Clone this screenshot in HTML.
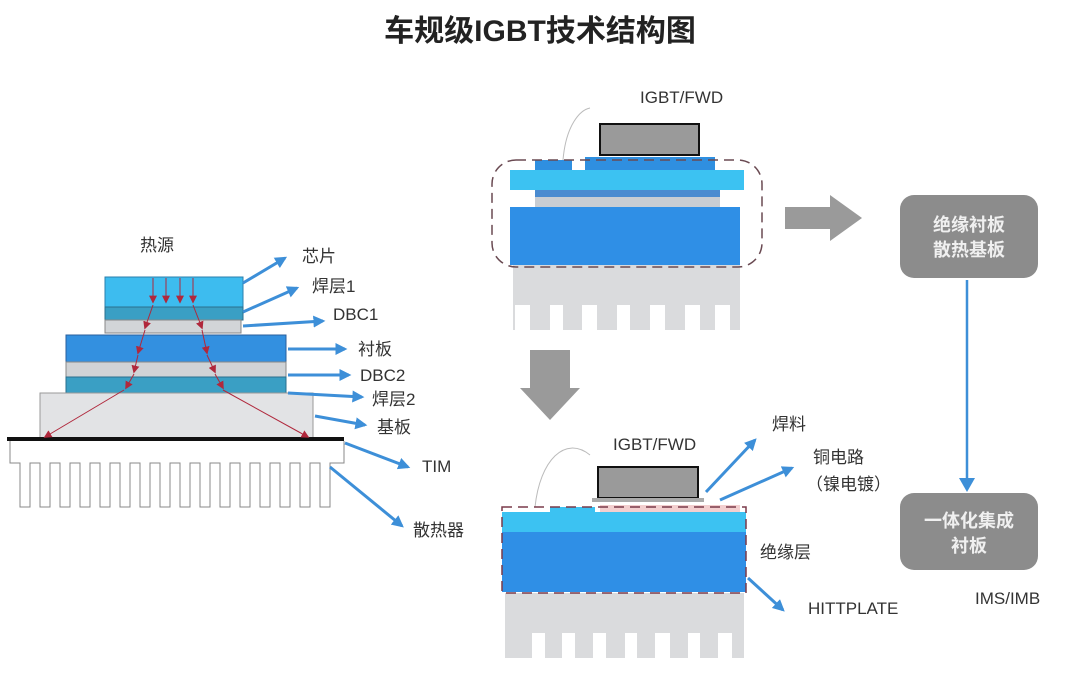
<!DOCTYPE html>
<html><head><meta charset="utf-8"><style>
body{margin:0;background:#fff;}
svg{display:block;font-family:"Liberation Sans","Noto Sans CJK SC",sans-serif;}
</style></head><body>
<svg width="1080" height="682" viewBox="0 0 1080 682" xmlns="http://www.w3.org/2000/svg">
<defs>
<marker id="ab" viewBox="0 0 10 10" refX="8" refY="5" markerWidth="4" markerHeight="4" orient="auto"><path d="M0,0L10,5L0,10z" fill="#3d8fd8"/></marker>
<marker id="ar" viewBox="0 0 10 10" refX="8" refY="5" markerUnits="userSpaceOnUse" markerWidth="8" markerHeight="8" orient="auto"><path d="M0,0L10,5L0,10z" fill="#b0283c"/></marker>
</defs>
<rect width="1080" height="682" fill="#fff"/>
<text x="540" y="41" text-anchor="middle" font-size="30" font-weight="bold" fill="#222">车规级IGBT技术结构图</text>

<!-- LEFT STACK -->
<rect x="105" y="277" width="138" height="30" fill="#3dbcef" stroke="#2a7fae" stroke-width="1"/>
<rect x="105" y="307" width="138" height="13" fill="#3a9fc4" stroke="#2a6f8e" stroke-width="1"/>
<rect x="105" y="320" width="136" height="13" fill="#d2d5d8" stroke="#888" stroke-width="1"/>
<rect x="66" y="335" width="220" height="27" fill="#3390e0" stroke="#2a5f9e" stroke-width="1"/>
<rect x="66" y="362" width="220" height="15" fill="#d0d3d6" stroke="#888" stroke-width="1"/>
<rect x="66" y="377" width="220" height="16" fill="#3a9fc4" stroke="#2a6f8e" stroke-width="1"/>
<rect x="40" y="393" width="273" height="45" fill="#e2e3e5" stroke="#999" stroke-width="1"/>
<rect x="7" y="437" width="337" height="4" fill="#111"/>
<path d="M10,441 V463 H20 V507 H30 V463 H40 V507 H50 V463 H60 V507 H70 V463 H80 V507 H90 V463 H100 V507 H110 V463 H120 V507 H130 V463 H140 V507 H150 V463 H160 V507 H170 V463 H180 V507 H190 V463 H200 V507 H210 V463 H220 V507 H230 V463 H240 V507 H250 V463 H260 V507 H270 V463 H280 V507 H290 V463 H300 V507 H310 V463 H320 V507 H330 V463 H344 V441" fill="#fff" stroke="#888" stroke-width="1"/>
<!-- heat arrows -->
<g stroke="#b0283c" stroke-width="1" fill="none" marker-end="url(#ar)">
<line x1="153" y1="278" x2="153" y2="302"/><line x1="166" y1="278" x2="166" y2="302"/><line x1="180" y1="278" x2="180" y2="302"/><line x1="193" y1="278" x2="193" y2="302"/>
<line x1="153" y1="305" x2="145" y2="328"/><line x1="145" y1="330" x2="138" y2="353"/><line x1="138" y1="355" x2="134" y2="372"/><line x1="134" y1="374" x2="126" y2="388"/><line x1="124" y1="390" x2="45" y2="437"/>
<line x1="193" y1="305" x2="202" y2="328"/><line x1="202" y1="330" x2="207" y2="353"/><line x1="207" y1="355" x2="215" y2="372"/><line x1="215" y1="374" x2="223" y2="388"/><line x1="223" y1="390" x2="308" y2="437"/>
</g>
<!-- blue label arrows -->
<g stroke="#3d8fd8" stroke-width="3" fill="none" marker-end="url(#ab)">
<line x1="243" y1="283" x2="285" y2="258"/>
<line x1="243" y1="312" x2="297" y2="288"/>
<line x1="243" y1="326" x2="323" y2="321"/>
<line x1="288" y1="349" x2="345" y2="349"/>
<line x1="288" y1="375" x2="349" y2="375"/>
<line x1="288" y1="393" x2="362" y2="397"/>
<line x1="315" y1="416" x2="365" y2="425"/>
<line x1="345" y1="443" x2="408" y2="467"/>
<line x1="330" y1="467" x2="402" y2="526"/>
</g>
<g font-size="17" fill="#333">
<text x="140" y="251">热源</text>
<text x="302" y="262">芯片</text>
<text x="312" y="292">焊层1</text>
<text x="333" y="320">DBC1</text>
<text x="358" y="355">衬板</text>
<text x="360" y="381">DBC2</text>
<text x="372" y="405">焊层2</text>
<text x="377" y="433">基板</text>
<text x="422" y="472">TIM</text>
<text x="413" y="536">散热器</text>
</g>

<!-- TOP CENTER -->
<text x="640" y="103" font-size="17" fill="#333">IGBT/FWD</text>
<path d="M563,160 C566,125 580,110 590,108" fill="none" stroke="#bbb" stroke-width="1"/>
<rect x="600" y="124" width="99" height="31" fill="#9a9a9a" stroke="#111" stroke-width="2"/>
<rect x="535" y="160" width="37" height="12" fill="#2f8fe0"/>
<rect x="585" y="157" width="130" height="15" fill="#2f8fe0"/>
<rect x="510" y="170" width="234" height="20" fill="#3cc2f2"/>
<rect x="535" y="190" width="185" height="7" fill="#4a8bd0"/>
<rect x="535" y="197" width="185" height="10" fill="#c8cdd3"/>
<rect x="510" y="207" width="230" height="58" fill="#2f8fe6"/>
<path d="M513,265 H740 V330 H730 V305 H715 V330 H700 V305 H685 V330 H665 V305 H650 V330 H630 V305 H617 V330 H597 V305 H582 V330 H563 V305 H550 V330 H530 V305 H515 V330 H513z" fill="#dadbdd"/>
<rect x="492" y="160" width="270" height="107" rx="24" fill="none" stroke="#6a4a52" stroke-width="1.5" stroke-dasharray="10,6"/>

<!-- big gray arrows -->
<path d="M785,207 H830 V195 L862,218 L830,241 V229 H785z" fill="#9a9a9a"/>
<path d="M530,350 H570 V388 H580 L550,420 L520,388 H530z" fill="#9a9a9a"/>

<!-- right boxes -->
<rect x="900" y="195" width="138" height="83" rx="14" fill="#8c8c8c"/>
<text x="969" y="231" text-anchor="middle" font-size="18" font-weight="bold" fill="#f0f0f0">绝缘衬板</text>
<text x="969" y="256" text-anchor="middle" font-size="18" font-weight="bold" fill="#f0f0f0">散热基板</text>
<line x1="967" y1="280" x2="967" y2="482" stroke="#3d8fd8" stroke-width="2.5"/>
<path d="M959,478 L975,478 L967,492z" fill="#3d8fd8"/>
<rect x="900" y="493" width="138" height="77" rx="14" fill="#8c8c8c"/>
<text x="969" y="527" text-anchor="middle" font-size="18" font-weight="bold" fill="#f0f0f0">一体化集成</text>
<text x="969" y="552" text-anchor="middle" font-size="18" font-weight="bold" fill="#f0f0f0">衬板</text>
<text x="975" y="604" font-size="17" fill="#333">IMS/IMB</text>

<!-- BOTTOM CENTER -->
<text x="613" y="450" font-size="17" fill="#333">IGBT/FWD</text>
<path d="M535,507 C540,460 565,435 590,455" fill="none" stroke="#bbb" stroke-width="1"/>
<rect x="598" y="467" width="100" height="31" fill="#9a9a9a" stroke="#111" stroke-width="2"/>
<rect x="592" y="498" width="112" height="4" fill="#aaa"/>
<rect x="550" y="507" width="45" height="5" fill="#3cc2f2"/>
<rect x="600" y="505" width="140" height="7" fill="#e8a0a0" opacity="0.5"/>
<rect x="502" y="512" width="244" height="20" fill="#3cc2f2"/>
<rect x="502" y="532" width="244" height="60" fill="#2f8fe6"/>
<path d="M505,593 H744 V658 H732 V633 H718 V658 H700 V633 H688 V658 H670 V633 H655 V658 H637 V633 H625 V658 H606 V633 H593 V658 H575 V633 H562 V658 H545 V633 H532 V658 H505z" fill="#dadbdd"/>
<rect x="502" y="507" width="244" height="86" fill="none" stroke="#7a3a4a" stroke-width="1.5" stroke-dasharray="10,6"/>
<g stroke="#3d8fd8" stroke-width="3" fill="none" marker-end="url(#ab)">
<line x1="706" y1="492" x2="755" y2="440"/>
<line x1="720" y1="500" x2="792" y2="468"/>
<line x1="748" y1="578" x2="783" y2="610"/>
</g>
<g font-size="17" fill="#333">
<text x="772" y="430">焊料</text>
<text x="813" y="463">铜电路</text>
<text x="806" y="490">（镍电镀）</text>
<text x="760" y="558">绝缘层</text>
<text x="808" y="614">HITTPLATE</text>
</g>
</svg>
</body></html>
